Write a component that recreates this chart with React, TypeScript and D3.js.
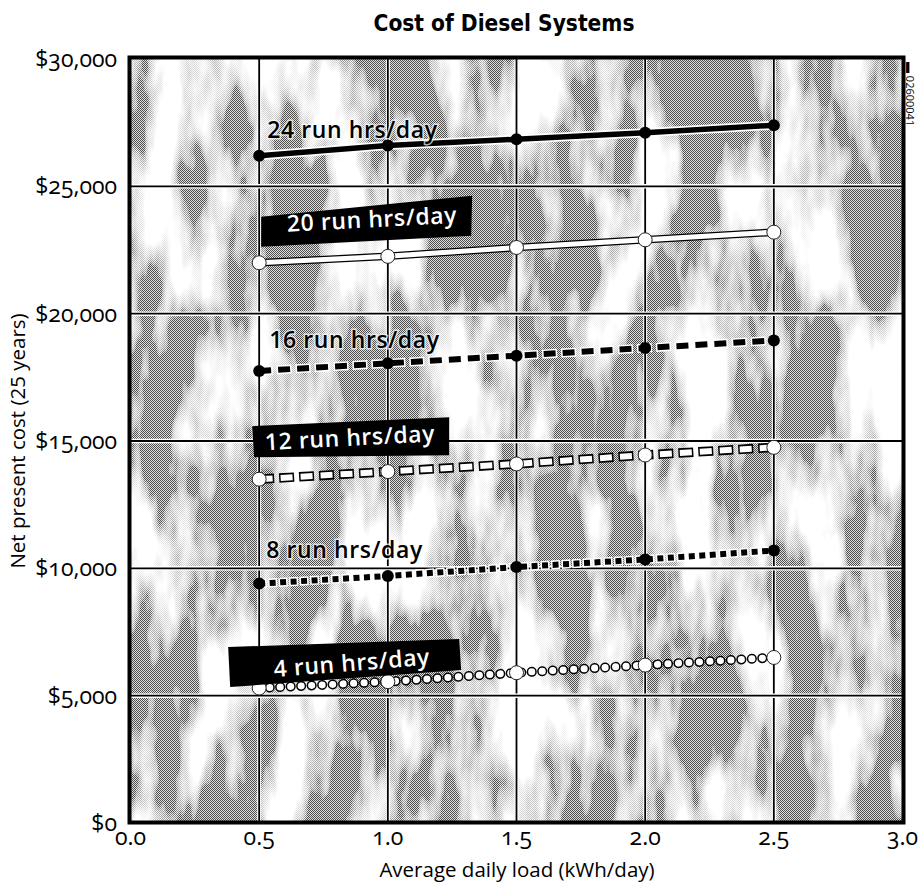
import * as d3 from "d3";

const loads = [0.5, 1.0, 1.5, 2.0, 2.5];
const cost24 = [26200, 26600, 26850, 27100, 27400];
const cost20 = [22000, 22250, 22600, 22900, 23200];
const cost16 = [17750, 18050, 18350, 18650, 18950];
const cost12 = [13500, 13800, 14100, 14450, 14750];
const cost8 = [9400, 9700, 10050, 10350, 10700];
const cost4 = [5300, 5550, 5900, 6200, 6500];
const seriesNames = ["24 run hrs/day", "20 run hrs/day", "16 run hrs/day", "12 run hrs/day", "8 run hrs/day", "4 run hrs/day"];
const xTicks = [0, 0.5, 1.0, 1.5, 2.0, 2.5, 3.0];
const yTicks = [0, 5000, 10000, 15000, 20000, 25000, 30000];

const W = 919;
const H = 886;
const FONT = "'Open Sans', sans-serif";

// style + label placement (offsets from first point of each series, px)
const STYLES = ["solidBlack", "solidWhite", "dashBlack", "dashWhite", "dotBlack", "dotWhite"];
const LABELS = [
  { dx: 8, dy: -18, rot: 0, box: null },
  { dx: 28, dy: -31, rot: -3, box: [[2, -46], [213, -67], [212, -27], [2, -16]] },
  { dx: 10, dy: -23, rot: 0, box: null },
  { dx: 6, dy: -29, rot: -3, box: [[-7, -53], [190, -62], [190, -24], [-5, -22]] },
  { dx: 7, dy: -26, rot: 0, box: null },
  { dx: 15, dy: -11, rot: -4.5, box: [[-31, -41], [200, -49], [202, -18], [-29, -1]] },
];

const xs = d3.scaleLinear().domain([0, 3]).range([130.5, 902.5]);
const ys = d3.scaleLinear().domain([0, 30000]).range([823, 59]);
const fmtY = (v: number) => "$" + d3.format(",")(v);
const fmtX = d3.format(".1f");

function Series({ values, style }: { values: number[]; style: string }) {
  const pts = loads.map((l, i) => [xs(l), ys(values[i])] as [number, number]);
  const d = d3.line()(pts) || "";
  const dark = style.endsWith("Black");
  let strokes: JSX.Element[] = [];
  if (style === "solidBlack") {
    strokes = [
      <path key="h" d={d} stroke="#fff" strokeWidth={9} fill="none" />,
      <path key="l" d={d} stroke="#000" strokeWidth={5.5} fill="none" />,
    ];
  } else if (style === "solidWhite") {
    strokes = [
      <path key="h" d={d} stroke="#000" strokeWidth={7.5} fill="none" />,
      <path key="l" d={d} stroke="#fff" strokeWidth={5} fill="none" />,
    ];
  } else if (style === "dashBlack") {
    strokes = [
      <path key="h" d={d} stroke="#fff" strokeWidth={9} fill="none" strokeDasharray="15 4" strokeDashoffset={1.5} />,
      <path key="l" d={d} stroke="#000" strokeWidth={6} fill="none" strokeDasharray="12 7" />,
    ];
  } else if (style === "dashWhite") {
    strokes = [
      <path key="h" d={d} stroke="#000" strokeWidth={9.5} fill="none" strokeDasharray="15 5" />,
      <path key="l" d={d} stroke="#fff" strokeWidth={6} fill="none" strokeDasharray="12 8" strokeDashoffset={-1.5} />,
    ];
  } else if (style === "dotBlack") {
    strokes = [
      <path key="h" d={d} stroke="#fff" strokeWidth={9} fill="none" strokeDasharray="9 1.5" strokeDashoffset={1.5} />,
      <path key="l" d={d} stroke="#000" strokeWidth={6} fill="none" strokeDasharray="6 4.5" />,
    ];
  } else {
    strokes = [
      <path key="h" d={d} stroke="#000" strokeWidth={10} fill="none" strokeLinecap="round" strokeDasharray="0.1 10.4" />,
      <path key="l" d={d} stroke="#fff" strokeWidth={7} fill="none" strokeLinecap="round" strokeDasharray="0.1 10.4" />,
    ];
  }
  return (
    <g>
      {strokes}
      {pts.map((p, i) => (
        <circle
          key={i}
          cx={p[0]}
          cy={p[1]}
          r={dark ? 6 : 7}
          fill={dark ? "#000" : "#fff"}
          stroke={dark ? "#000" : "#222"}
          strokeWidth={dark ? 0 : 1}
        />
      ))}
    </g>
  );
}

function SeriesLabel({ values, index }: { values: number[]; index: number }) {
  const lay = LABELS[index];
  const x0 = xs(loads[0]);
  const y0 = ys(values[0]);
  const tx = x0 + lay.dx;
  const ty = y0 + lay.dy;
  return (
    <g>
      {lay.box && (
        <polygon points={lay.box.map(([bx, by]) => `${x0 + bx},${y0 + by}`).join(" ")} fill="#000" />
      )}
      <text
        x={tx}
        y={ty}
        transform={`rotate(${lay.rot},${tx},${ty})`}
        fontFamily={FONT}
        fontSize={23}
        fontWeight={600}
        letterSpacing={0.6}
        fill={lay.box ? "#fff" : "#000"}
        stroke={lay.box ? "none" : "#fff"}
        strokeWidth={lay.box ? 0 : 3}
        strokeOpacity={0.7}
        paintOrder="stroke"
      >
        {seriesNames[index]}
      </text>
    </g>
  );
}

export default function App() {
  const allSeries = [cost24, cost20, cost16, cost12, cost8, cost4];
  const x0 = xs(0);
  const x1 = xs(3);
  const yTop = ys(30000);
  const yBot = ys(0);
  return (
    <div style={{ position: "absolute", left: 0, top: 0 }}>
      <svg width={W} height={H} style={{ display: "block", background: "#fff" }}>
        <defs>
          <pattern id="half" width={2} height={2} patternUnits="userSpaceOnUse">
            <rect width={2} height={2} fill="#dedede" />
            <rect width={1} height={1} fill="#4e4e4e" />
            <rect x={1} y={1} width={1} height={1} fill="#4e4e4e" />
          </pattern>
          <filter id="blobs" x={x0} y={yTop} width={x1 - x0} height={yBot - yTop} filterUnits="userSpaceOnUse">
            <feTurbulence type="fractalNoise" baseFrequency="0.022 0.0065" numOctaves={4} seed={11} />
            <feColorMatrix
              type="matrix"
              values="5 0 0 0 -2.25  5 0 0 0 -2.25  5 0 0 0 -2.25  0 0 0 0 1"
            />
          </filter>
          <mask id="whiteMask" maskUnits="userSpaceOnUse" x={0} y={0} width={W} height={H}>
            <rect x={x0} y={yTop} width={x1 - x0} height={yBot - yTop} fill="#fff" filter="url(#blobs)" />
          </mask>
        </defs>

        {/* Title */}
        <text
          x={504}
          y={31}
          textAnchor="middle"
          fontFamily="'DejaVu Sans Condensed', 'DejaVu Sans', sans-serif"
          fontWeight="bold"
          fontSize={22.5}
          fill="#000"
        >
          Cost of Diesel Systems
        </text>

        {/* textured plot background */}
        <rect x={x0} y={yTop} width={x1 - x0} height={yBot - yTop} fill="url(#half)" />
        <rect x={x0} y={yTop} width={x1 - x0} height={yBot - yTop} fill="#fff" mask="url(#whiteMask)" />

        {/* grid */}
        {xTicks.slice(1, -1).map((t) => (
          <g key={"gx" + t}>
            <line x1={xs(t)} x2={xs(t)} y1={yTop} y2={yBot} stroke="#fff" strokeWidth={4} />
            <line x1={xs(t)} x2={xs(t)} y1={yTop} y2={yBot} stroke="#000" strokeWidth={1.8} />
          </g>
        ))}
        {yTicks.slice(1, -1).map((t) => (
          <g key={"gy" + t}>
            <line x1={x0} x2={x1} y1={ys(t)} y2={ys(t)} stroke="#fff" strokeWidth={4.5} />
            <line x1={x0} x2={x1} y1={ys(t)} y2={ys(t)} stroke="#000" strokeWidth={1.8} />
          </g>
        ))}

        {/* frame */}
        <rect x={x0 - 1} y={yTop - 1.5} width={x1 - x0 + 2} height={yBot - yTop + 1} fill="none" stroke="#000" strokeWidth={4} />

        {/* series */}
        {allSeries.map((vals, i) => (
          <Series key={i} values={vals} style={STYLES[i]} />
        ))}
        {allSeries.map((vals, i) => (
          <SeriesLabel key={"l" + i} values={vals} index={i} />
        ))}

        {/* y ticks */}
        {yTicks.map((t) => (
          <text
            key={"yt" + t}
            x={117}
            y={ys(t) + 8}
            textAnchor="end"
            fontFamily={FONT}
            fontSize={23}
            style={{ fontVariantNumeric: "oldstyle-nums" }}
            fill="#000"
          >
            {fmtY(t)}
          </text>
        ))}

        {/* x ticks */}
        {xTicks.map((t) => (
          <text
            key={"xt" + t}
            x={xs(t)}
            y={845}
            textAnchor="middle"
            fontFamily={FONT}
            fontSize={23}
            style={{ fontVariantNumeric: "oldstyle-nums" }}
            fill="#000"
          >
            {fmtX(t)}
          </text>
        ))}

        {/* axis titles */}
        <text x={517} y={877} textAnchor="middle" fontFamily={FONT} fontSize={20.5} fill="#000">
          Average daily load (kWh/day)
        </text>
        <text
          x={0}
          y={0}
          transform={`translate(25,441) rotate(-90)`}
          textAnchor="middle"
          fontFamily={FONT}
          fontSize={20.5}
          fill="#000"
        >
          Net present cost (25 years)
        </text>

        {/* scan code on right edge */}
        <text
          x={0}
          y={0}
          transform="translate(906,62) rotate(90)"
          fontFamily={FONT}
          fontSize={11}
          fill="#000"
        >
          ▬ 02600041
        </text>
      </svg>
    </div>
  );
}
